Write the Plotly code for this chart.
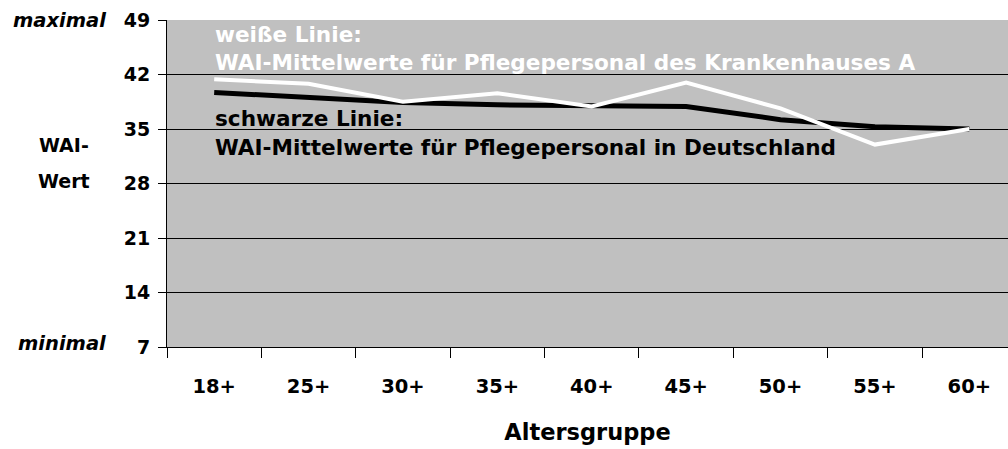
import plotly.graph_objects as go

# Altersgruppen und WAI-Mittelwerte
altersgruppen = ["18+", "25+", "30+", "35+", "40+", "45+", "50+", "55+", "60+"]
wai_deutschland = [39.7, 39.0, 38.4, 38.1, 38.0, 37.9, 36.2, 35.3, 35.0]
wai_krankenhaus_a = [41.4, 40.8, 38.5, 39.6, 37.9, 40.95, 37.65, 33.0, 35.0]
y_ticks = [7, 14, 21, 28, 35, 42, 49]

FONT = "DejaVu Sans, Arial, sans-serif"

fig = go.Figure()
fig.add_trace(go.Scatter(x=altersgruppen, y=wai_deutschland, mode="lines",
                         line=dict(color="black", width=5), showlegend=False))
fig.add_trace(go.Scatter(x=altersgruppen, y=wai_krankenhaus_a, mode="lines",
                         line=dict(color="white", width=4), showlegend=False))


def note(text, x, y, color="black", size=21.6, xref="paper", yref="y",
         xanchor="left", style="normal"):
    fig.add_annotation(x=x, y=y, xref=xref, yref=yref, text=text, showarrow=False,
                       xanchor=xanchor, yanchor="middle",
                       font=dict(family=FONT, size=size, color=color,
                                 weight="bold", style=style))


note("weiße Linie:", 0.055, 47.2, color="white")
note("WAI-Mittelwerte für Pflegepersonal des Krankenhauses A", 0.055, 43.5, color="white")
note("schwarze Linie:", 0.055, 36.35)
note("WAI-Mittelwerte für Pflegepersonal in Deutschland", 0.055, 32.6)

note("maximal", -0.070, 1.0, size=19.5, yref="paper", xanchor="right", style="italic")
note("minimal", -0.070, 0.012, size=19.5, yref="paper", xanchor="right", style="italic")
note("WAI-", -0.123, 0.618, size=19, yref="paper", xanchor="center")
note("Wert", -0.123, 0.508, size=19, yref="paper", xanchor="center")

fig.update_xaxes(type="category", range=[-0.5, 8.41], tickson="boundaries",
                 ticks="outside", ticklen=10, tickcolor="black", showline=True,
                 linecolor="black", linewidth=1, showgrid=False,
                 tickfont=dict(family=FONT, size=19.5, color="black", weight="bold"),
                 ticklabelstandoff=22,
                 title=dict(text="Altersgruppe", standoff=26,
                            font=dict(family=FONT, size=22.5, color="black", weight="bold")))
fig.update_yaxes(range=[7, 49], tickvals=y_ticks, ticks="outside", ticklen=8,
                 tickcolor="black", showline=True, linecolor="black", linewidth=1,
                 showgrid=True, gridcolor="black", gridwidth=1, zeroline=False,
                 tickfont=dict(family=FONT, size=19, color="black", weight="bold"),
                 ticklabelstandoff=4)

fig.update_layout(width=1008, height=449, plot_bgcolor="#c0c0c0", paper_bgcolor="white",
                  margin=dict(l=167, r=0, t=20, b=102))

fig.write_html("out.html", config={"displayModeBar": False},
               post_script="document.body.style.margin='0';")
